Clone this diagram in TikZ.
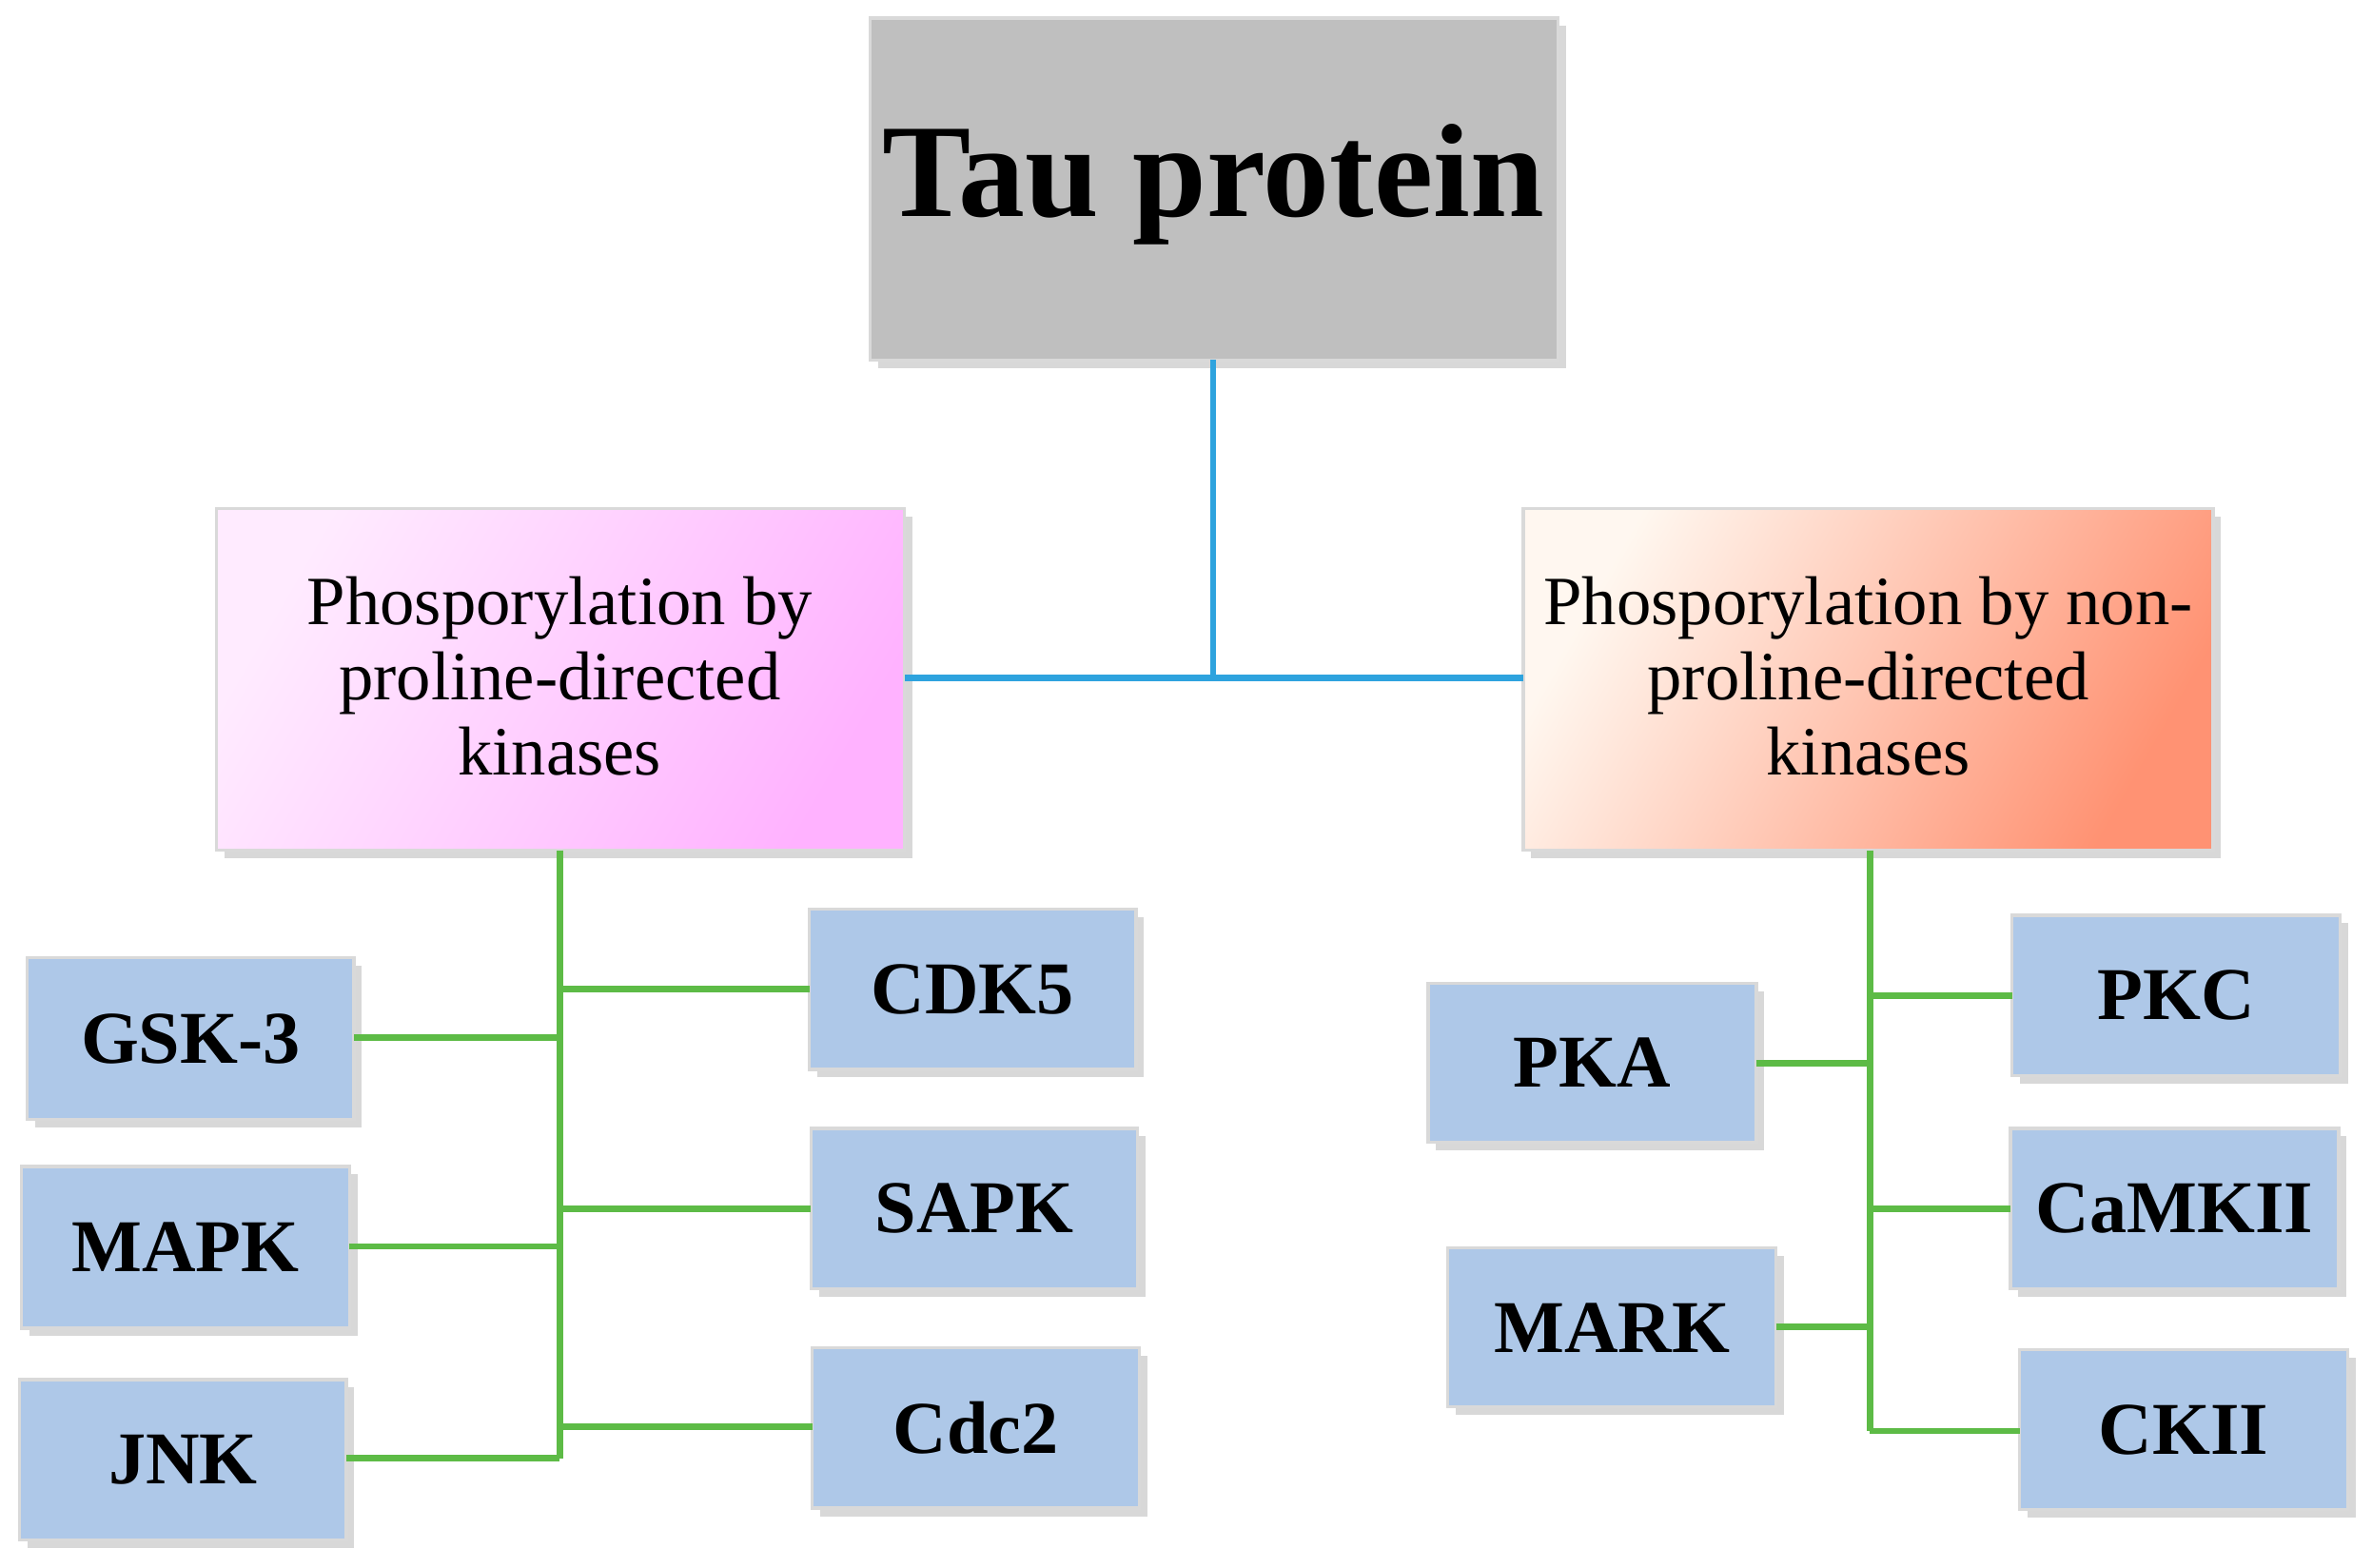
\documentclass[tikz,border=0pt]{standalone}
\usepackage{fontspec}
\setmainfont{Liberation Serif}
\usetikzlibrary{shadows}
\definecolor{kb}{HTML}{AEC8E8}
\definecolor{gl}{HTML}{5DBB46}
\definecolor{bl}{HTML}{2EA3DE}
\begin{document}
\begin{tikzpicture}[x=0.01cm,y=-0.01cm,
  box/.style={draw=white!85!black,line width=0.6pt,drop shadow={shadow xshift=1.5pt,shadow yshift=-1.5pt,opacity=0.3}},
  kin/.style={box,fill=kb},
  kf/.style={font=\bfseries\fontsize{14}{17}\selectfont},
  gline/.style={gl,line width=1.2pt},
  bline/.style={bl,line width=1.2pt}]
\useasboundingbox (0,0) rectangle (1568,1036);
\fill[white] (0,0) rectangle (1568,1036);
% top
\path[box,fill=black!25] (575,12) rectangle (1030,238);
\node[font=\bfseries\fontsize{25}{30}\selectfont] (tau) at (802,122) {Tau protein};
\coordinate (taub) at (802,238);
\path[box,left color=magenta!8,right color=magenta!30,shading angle=60] (143,336) rectangle (598,562);
\node[align=center,font=\fontsize{13}{14.2}\selectfont] (pl) at (370,447) {Phosporylation by\\proline-directed\\kinases};
\path[box,left color=orange!6,right color=orange!45!red!55,shading angle=60] (1007,336) rectangle (1463,562);
\node[align=center,font=\fontsize{13}{14.2}\selectfont] (pr) at (1235,447) {Phosporylation by non-\\proline-directed\\kinases};
\draw[bline] (taub) -- (802,448);
\draw[bline] (598,448) -- (1007,448);
% kinase boxes
\newcommand{\kbox}[6]{\path[kin] (#1,#2) rectangle (#3,#4); \node[kf] (#5) at ({(#1+#3)/2},{(#2+#4)/2}) {#6};}
\kbox{18}{633}{234}{740}{gsk}{GSK-3}
\kbox{14}{771}{231}{878}{mapk}{MAPK}
\kbox{13}{912}{229}{1018}{jnk}{JNK}
\kbox{535}{601}{751}{707}{cdk}{CDK5}
\kbox{536}{746}{752}{852}{sapk}{SAPK}
\kbox{537}{891}{753}{997}{cdc}{Cdc2}
\kbox{944}{650}{1161}{755}{pka}{PKA}
\kbox{957}{825}{1174}{930}{mark}{MARK}
\kbox{1330}{605}{1547}{711}{pkc}{PKC}
\kbox{1329}{746}{1546}{852}{camk}{CaMKII}
\kbox{1335}{892}{1552}{998}{ckii}{CKII}
% green lines
\draw[gline] (370,562) -- (370,964);
\draw[gline] (234,686) -- (370,686);
\draw[gline] (231,824) -- (370,824);
\draw[gline] (229,964) -- (370,964);
\draw[gline] (370,654) -- (535,654);
\draw[gline] (370,799) -- (536,799);
\draw[gline] (370,943) -- (537,943);
\draw[gline] (1236,562) -- (1236,946);
\draw[gline] (1161,703) -- (1236,703);
\draw[gline] (1174,877) -- (1236,877);
\draw[gline] (1236,658) -- (1330,658);
\draw[gline] (1236,799) -- (1329,799);
\draw[gline] (1236,946) -- (1335,946);
\end{tikzpicture}
\end{document}
